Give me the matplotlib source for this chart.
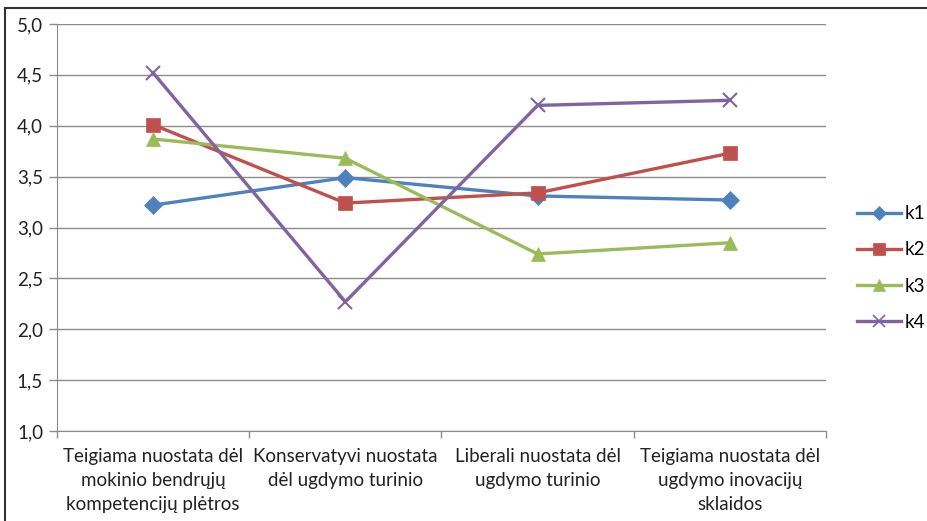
import matplotlib

matplotlib.use("Agg")
import matplotlib.pyplot as plt
from matplotlib.lines import Line2D

plt.rcParams["font.family"] = ["Lato", "DejaVu Sans"]

categories = [
    "Teigiama nuostata dėl\nmokinio bendrųjų\nkompetencijų plėtros",
    "Konservatyvi nuostata\ndėl ugdymo turinio",
    "Liberali nuostata dėl\nugdymo turinio",
    "Teigiama nuostata dėl\nugdymo inovacijų\nsklaidos",
]
k1 = [3.22, 3.49, 3.31, 3.27]
k2 = [4.01, 3.24, 3.34, 3.73]
k3 = [3.87, 3.68, 2.74, 2.85]
k4 = [4.52, 2.27, 4.20, 4.25]
yticks = [1.0, 1.5, 2.0, 2.5, 3.0, 3.5, 4.0, 4.5, 5.0]

series = [
    ("k1", k1, "#4F81BD", "D", 9),
    ("k2", k2, "#C0504D", "s", 10),
    ("k3", k3, "#9BBB59", "^", 10),
    ("k4", k4, "#8064A2", "x", 10),
]

fig = plt.figure(figsize=(9.28, 5.21), dpi=100)
ax = fig.add_axes([57 / 928, 1 - 431 / 521, (826 - 57) / 928, (431 - 24) / 521])

x = list(range(len(categories)))
for name, vals, col, mk, ms in series:
    ax.plot(x, vals, color=col, lw=2.4, marker=mk, markersize=ms,
            markeredgewidth=1.5 if mk == "x" else 0.5, markeredgecolor=col,
            markerfacecolor=col, label=name, zorder=3)

ax.set_xlim(-0.5, len(categories) - 0.5)
ax.set_ylim(1.0, 5.0)
ax.set_yticks(yticks)
ax.set_yticklabels([f"{v:.1f}".replace(".", ",") for v in yticks], fontsize=13.5, color="#222222")
ax.yaxis.grid(True, color="#8C8C8C", lw=1)
ax.set_axisbelow(True)

ax.set_xticks(x)
ax.set_xticklabels(categories, fontsize=13.5, color="#222222", linespacing=1.5)
ax.set_xticks([i - 0.5 for i in range(len(categories) + 1)], minor=True)
ax.tick_params(axis="x", which="major", length=0, pad=12)
ax.tick_params(axis="x", which="minor", length=5, color="#8C8C8C", width=1)
ax.tick_params(axis="y", length=6, color="#8C8C8C", width=1, pad=4)

for side in ("top", "right"):
    ax.spines[side].set_visible(False)
for side in ("left", "bottom"):
    ax.spines[side].set_color("#8C8C8C")

handles = [Line2D([], [], color=col, lw=2.4, marker=mk, markersize=ms * 0.8,
                  markeredgecolor=col, markerfacecolor=col,
                  markeredgewidth=1.2 if mk == "x" else 0.5)
           for _, _, col, mk, ms in series]
fig.legend(handles, [s[0] for s in series], loc="center left",
           bbox_to_anchor=(850 / 928, 1 - 268 / 521), frameon=False, fontsize=13.5,
           handlelength=2.3, handletextpad=0.2, labelspacing=1.02, borderaxespad=0)

# outer chart border (left and top edges visible in the crop)
fig.add_artist(Line2D([5 / 928, 5 / 928], [0, 1 - 8 / 521], transform=fig.transFigure,
                      color="#333333", lw=1.5))
fig.add_artist(Line2D([5 / 928, 1], [1 - 8 / 521, 1 - 8 / 521], transform=fig.transFigure,
                      color="#333333", lw=1.5))

fig.savefig("out.png", dpi=100)
